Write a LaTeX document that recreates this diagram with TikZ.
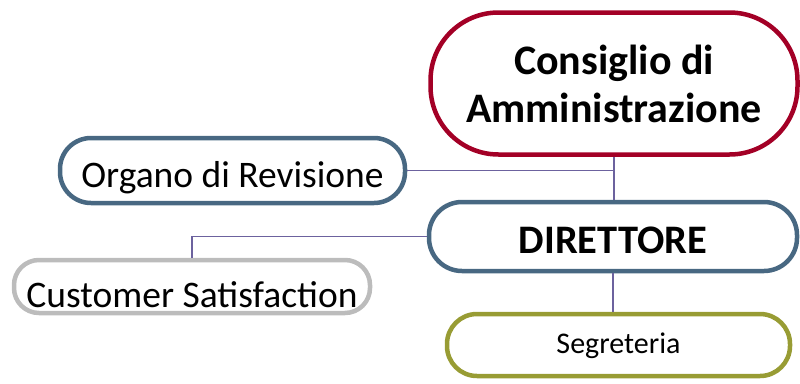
\documentclass[tikz,border=0pt]{standalone}
\usepackage{fontspec}
\setmainfont{Carlito}
\usepackage{xcolor}
\definecolor{cdared}{RGB}{163,0,38}
\definecolor{dirblue}{RGB}{72,104,130}
\definecolor{csgray}{RGB}{188,188,188}
\definecolor{segolive}{RGB}{152,156,52}
\definecolor{linkcol}{RGB}{108,98,158}

\begin{document}
\begin{tikzpicture}[x=1pt, y=-1pt,
    box/.style={draw, line width=4.5pt, align=center, inner sep=0pt, text depth=0pt},
    link/.style={draw=linkcol, line width=1.4pt}]

    \useasboundingbox (0,0) rectangle (800,383);

    \node [box, draw=cdared, minimum width=367pt, minimum height=142pt, rounded corners=68pt,
           font=\fontsize{42}{48}\selectfont\bfseries] (cda) at (614,83.5) {Consiglio di\\Amministrazione};
    \node [box, draw=dirblue, minimum width=345pt, minimum height=65pt, rounded corners=31pt,
           text height=33pt, font=\fontsize{37.5}{44}\selectfont] (org) at (232.5,170.5) {Organo di Revisione};
    \node [box, draw=dirblue, minimum width=368pt, minimum height=69pt, rounded corners=33pt,
           text height=33pt, font=\fontsize{40.5}{48}\selectfont\bfseries] (dir) at (613,236.5) {DIRETTORE};
    \node [box, draw=csgray, minimum width=356pt, minimum height=53pt, rounded corners=25pt,
           text height=41pt, font=\fontsize{37.5}{44}\selectfont] (cs) at (192,286.5) {Customer Satisfaction};
    \node [box, draw=segolive, minimum width=343pt, minimum height=62pt, rounded corners=30pt,
           text height=16pt, font=\fontsize{30}{36}\selectfont] (seg) at (618.5,345) {Segreteria};

    \draw [link] (cda.south) -- (cda.south |- dir.north);
    \draw [link] (org.east) -- (org.east -| cda.south);
    \draw [link] (dir.west) -| (cs.north);
    \draw [link] (dir.south) -- (dir.south |- seg.north);

\end{tikzpicture}
\end{document}
